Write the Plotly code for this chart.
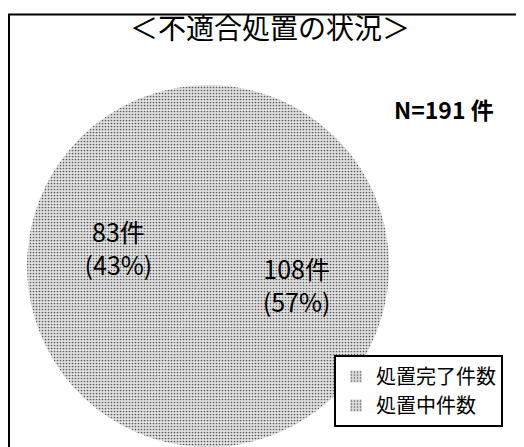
import plotly.graph_objects as go

title_text = "＜不適合処置の状況＞"
total_label = "N=191 件"
categories = ["処置完了件数", "処置中件数"]
counts = [108, 83]

# page has an 8px body margin; figure sized to fill the rest of the 524x447 window
OFF = 8
W, H = 524 - OFF, 447 - OFF
font_cjk = "Noto Sans CJK JP"
font_narrow = "Liberation Sans Narrow, Noto Sans CJK JP"


def px(x):
    return (x - OFF) / W


def py(y):
    return 1 - (y - OFF) / H


fig = go.Figure()
fig.add_trace(go.Pie(
    labels=categories,
    values=counts,
    sort=False,
    direction="clockwise",
    rotation=0,
    domain=dict(x=[px(27), px(389)], y=[py(447), py(85)]),
    marker=dict(
        colors=["#d4d4d4", "#d4d4d4"],
        line=dict(width=0),
        pattern=dict(shape=".", fgcolor="#5c5c5c", bgcolor="#e2e2e2", size=3, solidity=0.25),
    ),
    texttemplate="%{value}件<br>(%{percent:.0%})",
    textposition="inside",
    insidetextorientation="horizontal",
    insidetextfont=dict(family=font_narrow, size=25, color="black"),
    hoverinfo="label+value+percent",
))

fig.update_layout(
    width=W, height=H,
    margin=dict(l=0, r=0, t=0, b=0),
    paper_bgcolor="white",
    plot_bgcolor="white",
    title=dict(text=title_text, x=px(270), y=py(29), xanchor="center", yanchor="middle",
               font=dict(family=font_cjk, size=28, color="black")),
    showlegend=True,
    legend=dict(x=px(334), y=py(355), xanchor="left", yanchor="top",
                bordercolor="black", borderwidth=2, bgcolor="white",
                entrywidth=170, entrywidthmode="pixels",
                font=dict(family=font_cjk, size=20, color="black")),
    annotations=[dict(text="<b>" + total_label + "</b>", x=px(392), y=py(109),
                      xref="paper", yref="paper", xanchor="left", yanchor="middle",
                      showarrow=False, font=dict(family=font_narrow, size=23, color="black"))],
    shapes=[dict(type="rect", xref="paper", yref="paper", x0=px(9), x1=1.1, y0=-0.1, y1=py(14.5),
                 line=dict(color="black", width=2), layer="below")],
)

fig.write_html("out.html")
